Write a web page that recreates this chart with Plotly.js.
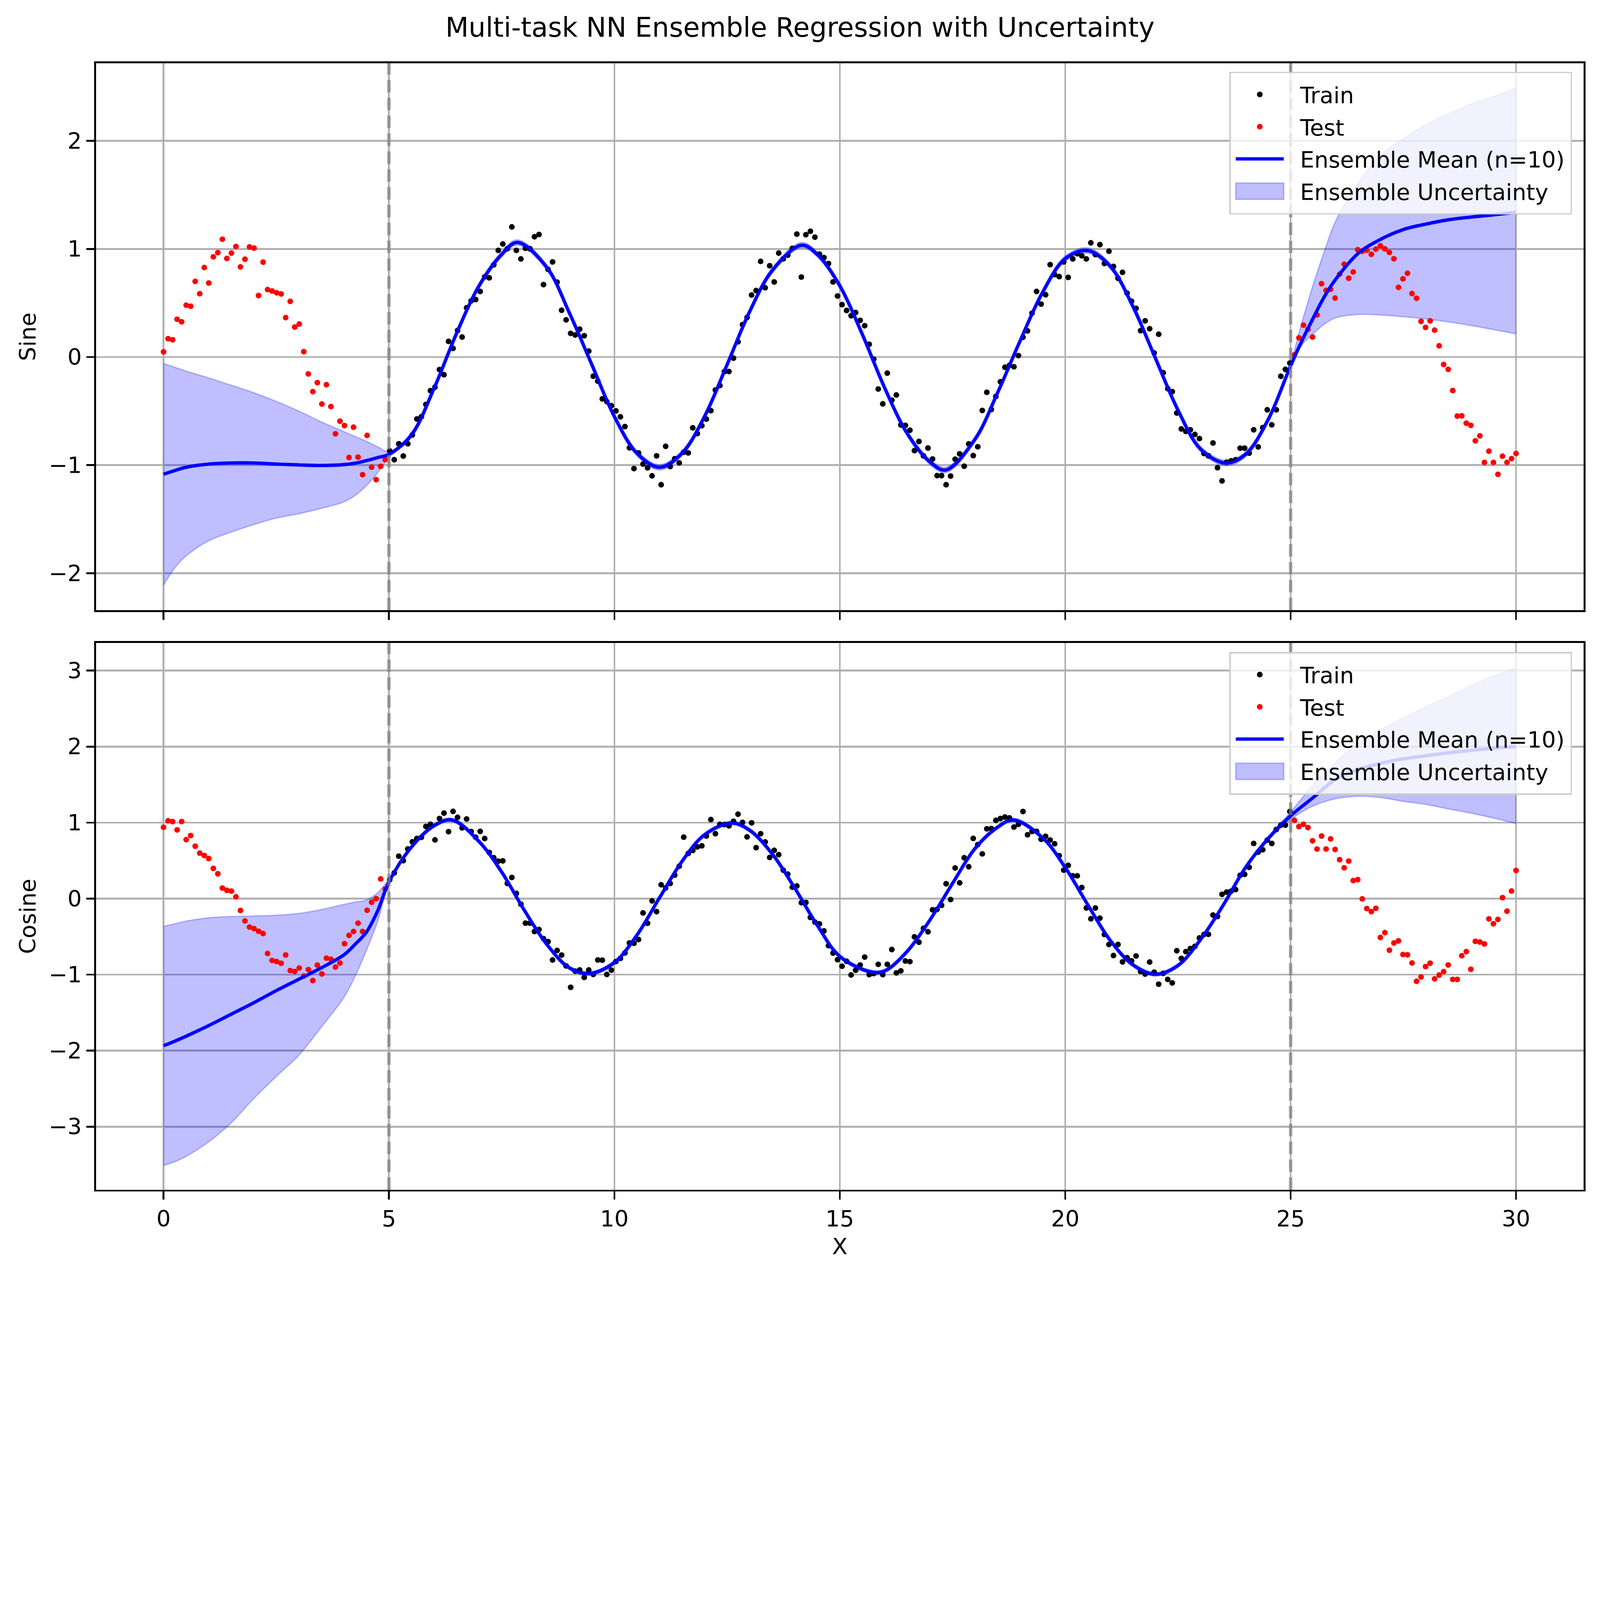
<!DOCTYPE html>
<html>
<head>
<meta charset="utf-8">
<script src="https://cdn.plot.ly/plotly-3.0.1.min.js"></script>
<style>
  html, body { margin: 0; padding: 0; background: #ffffff; }
  #outer { position: relative; overflow: hidden; background: #ffffff; }
  #wrap { position: absolute; left: 0; top: 0; width: 1568px; height: 1249px; transform-origin: 0 0; }
</style>
</head>
<body>
<div id="outer"><div id="wrap"><div id="plot"></div></div></div>
<script>
// ---------------- sampling grid (300 evenly spaced samples on [0, 30]) ----------------
const xGrid = Array.from({length: 300}, (_, i) => +(i * 30 / 299).toFixed(4));
const xTrain = xGrid.slice(50, 250);
const xTest = xGrid.slice(0, 50).concat(xGrid.slice(250));

// ---------------- Sine task: observed points ----------------
const sineTrain = [
 -0.868,-0.950,-0.802,-0.916,-0.802,-0.721,-0.573,-0.552,-0.439,-0.311,
 -0.279,-0.116,-0.164,0.145,0.080,0.246,0.185,0.456,0.519,0.532,
 0.607,0.742,0.733,0.853,0.987,1.046,1.002,1.204,0.987,0.908,
 1.006,1.002,1.113,1.134,0.670,0.811,0.880,0.693,0.433,0.344,
 0.219,0.204,0.258,0.197,0.055,-0.177,-0.223,-0.387,-0.412,-0.450,
 -0.498,-0.553,-0.643,-0.840,-1.032,-0.887,-0.990,-1.025,-1.099,-0.914,
 -1.181,-0.826,-1.013,-0.941,-0.979,-0.880,-0.887,-0.655,-0.708,-0.635,
 -0.574,-0.496,-0.305,-0.263,-0.135,-0.134,-0.010,0.141,0.300,0.366,
 0.574,0.615,0.885,0.641,0.845,0.695,0.962,0.908,0.943,1.006,
 1.137,0.740,1.132,1.164,1.109,0.952,0.920,0.865,0.695,0.565,
 0.485,0.431,0.382,0.412,0.340,0.290,0.118,-0.019,-0.296,-0.433,
 -0.149,-0.399,-0.351,-0.628,-0.632,-0.677,-0.866,-0.781,-0.914,-0.842,
 -0.943,-1.097,-1.097,-1.181,-1.101,-0.945,-0.895,-1.010,-0.803,-0.912,
 -0.830,-0.494,-0.326,-0.485,-0.365,-0.229,-0.094,-0.076,-0.090,0.013,
 0.183,0.242,0.406,0.607,0.490,0.576,0.855,0.763,0.744,0.880,
 0.737,0.908,0.956,0.937,0.908,1.057,0.948,1.040,0.865,0.979,
 0.838,0.729,0.784,0.592,0.516,0.450,0.244,0.335,0.262,0.038,
 0.211,-0.145,-0.292,-0.320,-0.518,-0.665,-0.688,-0.673,-0.716,-0.754,
 -0.892,-0.914,-0.795,-1.024,-1.146,-0.973,-0.960,-0.950,-0.843,-0.843,
 -0.889,-0.673,-0.831,-0.653,-0.488,-0.627,-0.488,-0.178,-0.114,-0.056
];
const sineTest = [
 0.048,0.170,0.160,0.350,0.326,0.480,0.470,0.700,0.586,0.828,
 0.685,0.927,0.966,1.090,0.912,0.962,1.023,0.834,0.905,1.019,
 1.008,0.569,0.878,0.624,0.611,0.594,0.584,0.365,0.515,0.277,
 0.305,0.050,-0.156,-0.320,-0.237,-0.435,-0.256,-0.458,-0.710,-0.594,
 -0.634,-0.929,-0.649,-0.926,-1.088,-0.725,-1.019,-1.134,-1.011,-0.950,
 0.020,0.178,0.295,0.257,0.185,0.389,0.678,0.617,0.627,0.546,
 0.767,0.859,0.729,0.787,0.993,0.978,0.988,0.950,0.998,1.029,
 1.001,0.968,0.909,0.645,0.724,0.775,0.587,0.544,0.330,0.274,
 0.335,0.249,0.104,-0.069,-0.114,-0.310,-0.546,-0.544,-0.612,-0.632,
 -0.775,-0.729,-0.975,-0.871,-0.975,-1.085,-0.917,-0.975,-0.940,-0.892
];

// ---------------- Cosine task: observed points ----------------
const cosTrain = [
 0.249,0.338,0.559,0.499,0.654,0.748,0.791,0.807,0.950,0.977,
 0.773,1.054,1.125,0.881,1.148,1.070,0.932,1.048,0.883,0.809,
 0.885,0.791,0.608,0.538,0.493,0.497,0.200,0.279,0.069,-0.073,
 -0.322,-0.322,-0.432,-0.406,-0.526,-0.565,-0.807,-0.681,-0.742,-0.885,
 -1.166,-0.954,-0.938,-1.036,-0.938,-0.997,-0.807,-0.809,-0.997,-0.940,
 -0.828,-0.787,-0.714,-0.583,-0.587,-0.538,-0.188,-0.324,-0.029,-0.171,
 0.183,0.141,0.200,0.310,0.426,0.809,0.595,0.634,0.681,0.695,
 0.824,1.040,0.854,0.977,0.975,0.958,1.017,1.111,1.003,0.813,
 0.997,0.671,0.854,0.746,0.542,0.636,0.579,0.375,0.322,0.151,
 0.167,-0.053,-0.051,-0.247,-0.308,-0.332,-0.424,-0.618,-0.716,-0.803,
 -0.889,-0.824,-1.004,-0.942,-0.873,-0.769,-0.999,-0.985,-0.864,-0.999,
 -0.864,-0.669,-0.977,-0.950,-0.820,-0.828,-0.502,-0.573,-0.391,-0.436,
 -0.147,-0.141,-0.088,0.196,-0.012,0.404,0.208,0.538,0.420,0.793,
 0.710,0.589,0.919,0.922,1.030,1.054,1.074,1.062,0.942,0.977,
 1.146,0.840,0.885,0.885,0.781,0.820,0.771,0.722,0.565,0.375,
 0.438,0.300,0.300,0.147,-0.122,-0.265,-0.124,-0.257,-0.471,-0.603,
 -0.748,-0.603,-0.832,-0.777,-0.818,-0.754,-0.957,-0.992,-0.834,-0.967,
 -1.125,-0.983,-1.062,-1.109,-0.685,-0.786,-0.697,-0.656,-0.628,-0.517,
 -0.472,-0.469,-0.216,-0.235,0.057,0.086,0.098,0.120,0.307,0.320,
 0.412,0.726,0.612,0.643,0.770,0.726,0.910,0.967,0.967,1.147
];
const cosTest = [
 0.939,1.024,1.014,0.905,1.014,0.776,0.830,0.690,0.599,0.568,
 0.527,0.398,0.327,0.139,0.109,0.099,0.024,-0.156,-0.293,-0.374,
 -0.395,-0.429,-0.459,-0.721,-0.813,-0.827,-0.850,-0.741,-0.946,-0.959,
 -0.912,-1.017,-0.932,-1.078,-0.874,-0.990,-0.782,-0.796,-0.901,-0.847,
 -0.592,-0.483,-0.432,-0.323,-0.432,-0.153,-0.048,0.000,0.259,0.126,
 1.030,0.948,0.979,0.935,0.761,0.653,0.824,0.653,0.786,0.647,
 0.513,0.406,0.494,0.238,0.250,-0.003,-0.130,-0.171,-0.127,-0.510,
 -0.447,-0.678,-0.583,-0.555,-0.735,-0.739,-0.846,-1.087,-1.030,-0.894,
 -0.849,-1.055,-1.005,-0.960,-0.872,-1.062,-1.062,-0.751,-0.697,-0.929,
 -0.561,-0.571,-0.596,-0.266,-0.330,-0.273,0.013,-0.165,0.100,0.371
];

// ---------------- Sine task: ensemble mean and uncertainty band ----------------
const sineKnots = [0,0.25,0.5,1,1.5,2,2.5,3,3.5,4, 4.25,4.5,4.75,5,5.5,6,6.5,7,7.5,7.85,
 8.5,9,9.5,10,10.5,11,11.5,12,12.5,13, 13.5,14.15,14.5,15,15.5,16,16.5,17,17.35,18,
 18.5,19,19.5,20,20.5,21,21.5,22,22.5,23, 23.55,24,24.5,25,25.25,25.5,25.75,26,26.5,27,
 27.5,28,28.5,29,29.5,30];
const sineMean = [-1.084,-1.05,-1.02,-0.99,-0.98,-0.98,-0.99,-0.998,-1.003,-0.995,
 -0.982,-0.958,-0.93,-0.90,-0.72,-0.29,0.22,0.66,0.95,1.06,
 0.83,0.41,-0.07,-0.55,-0.89,-1.02,-0.89,-0.55,-0.07,0.42,
 0.80,1.035,0.95,0.66,0.21,-0.29,-0.71,-0.97,-1.045,-0.76,
 -0.33,0.15,0.60,0.91,0.985,0.84,0.47,-0.01,-0.49,-0.85,
 -0.98,-0.90,-0.58,-0.08,0.15,0.36,0.56,0.72,0.96,1.09,
 1.18,1.23,1.27,1.295,1.316,1.34];
const sineUpper = [-0.06,-0.095,-0.13,-0.193,-0.26,-0.33,-0.41,-0.50,-0.60,-0.69,
 -0.735,-0.78,-0.83,-0.875,-0.695,-0.265,0.245,0.685,0.975,1.085,
 0.855,0.435,-0.045,-0.525,-0.865,-0.995,-0.865,-0.525,-0.045,0.445,
 0.825,1.06,0.975,0.685,0.235,-0.265,-0.685,-0.945,-1.02,-0.735,
 -0.305,0.175,0.625,0.935,1.01,0.865,0.495,0.015,-0.465,-0.825,
 -0.955,-0.875,-0.555,-0.05,0.32,0.67,0.98,1.26,1.61,1.87,
 2.02,2.15,2.25,2.34,2.41,2.49];
const sineLower = [-2.11,-1.95,-1.84,-1.70,-1.62,-1.55,-1.49,-1.45,-1.40,-1.34,
 -1.28,-1.19,-1.07,-0.93,-0.745,-0.315,0.195,0.635,0.925,1.035,
 0.805,0.385,-0.095,-0.575,-0.915,-1.045,-0.915,-0.575,-0.095,0.395,
 0.775,1.01,0.925,0.635,0.185,-0.315,-0.735,-0.995,-1.07,-0.785,
 -0.355,0.125,0.575,0.885,0.96,0.815,0.445,-0.035,-0.515,-0.875,
 -1.005,-0.925,-0.605,-0.11,0.11,0.216,0.305,0.363,0.394,0.389,
 0.373,0.353,0.325,0.292,0.254,0.215];

// ---------------- Cosine task: ensemble mean and uncertainty band ----------------
const cosKnots = [0,0.25,0.5,1,1.5,2,2.5,3,3.5,4, 4.25,4.5,4.75,5,5.5,6,6.4,7,7.5,8,
 8.5,9,9.45,10,10.5,11,11.5,12,12.6,13, 13.5,14,14.5,15,15.7,16,16.5,17,17.5,18,
 18.5,18.85,19.5,20,20.5,21,21.5,22,22.5,23, 23.5,24,24.5,25,25.5,26,26.5,27,27.5,28,
 28.5,29,29.5,30];
const cosMean = [-1.935,-1.875,-1.81,-1.67,-1.52,-1.37,-1.21,-1.06,-0.91,-0.74,
 -0.60,-0.44,-0.16,0.22,0.68,0.96,1.035,0.75,0.35,-0.15,
 -0.60,-0.91,-0.985,-0.84,-0.48,0.01,0.49,0.84,0.995,0.90,
 0.59,0.14,-0.35,-0.76,-0.965,-0.95,-0.69,-0.28,0.20,0.66,
 0.94,1.035,0.80,0.41,-0.08,-0.55,-0.87,-0.995,-0.88,-0.54,
 -0.09,0.41,0.79,1.09,1.33,1.57,1.70,1.78,1.84,1.88,
 1.92,1.95,1.98,2.0];
const cosUpper = [-0.364,-0.33,-0.296,-0.252,-0.235,-0.228,-0.218,-0.194,-0.143,-0.075,
 -0.045,-0.017,0.08,0.26,0.705,0.985,1.06,0.775,0.375,-0.125,
 -0.575,-0.885,-0.96,-0.815,-0.455,0.035,0.515,0.865,1.02,0.925,
 0.615,0.165,-0.325,-0.735,-0.94,-0.925,-0.665,-0.255,0.225,0.685,
 0.965,1.06,0.825,0.435,-0.055,-0.525,-0.845,-0.97,-0.855,-0.515,
 -0.065,0.435,0.815,1.14,1.50,1.79,2.04,2.22,2.38,2.52,
 2.66,2.80,2.93,3.03];
const cosLower = [-3.51,-3.46,-3.39,-3.20,-2.95,-2.63,-2.34,-2.06,-1.69,-1.30,
 -1.02,-0.68,-0.30,0.19,0.655,0.935,1.01,0.725,0.325,-0.175,
 -0.625,-0.935,-1.01,-0.865,-0.505,-0.015,0.465,0.815,0.97,0.875,
 0.565,0.115,-0.375,-0.785,-0.99,-0.975,-0.715,-0.305,0.175,0.635,
 0.915,1.01,0.775,0.385,-0.105,-0.575,-0.895,-1.02,-0.905,-0.565,
 -0.115,0.385,0.765,1.04,1.22,1.315,1.347,1.33,1.28,1.24,
 1.18,1.125,1.06,0.99];

// ---------------- labels ----------------
const chartTitle = 'Multi-task NN Ensemble Regression with Uncertainty';
const taskNames = ['Sine', 'Cosine'];
const xLabel = 'X';
const nEnsemble = 10;
const regionBounds = [5, 25];

// ---------------- styling (base canvas 1568 x 1249, scaled to the window) ----------------
const FONT = 'DejaVu Sans, Liberation Sans, sans-serif';
const FS = 22;
const bandFill = 'rgba(0,0,255,0.25)';
const gridCol = '#b0b0b0';
const LW = 1.76;

function panelTraces(knots, mean, upper, lower, xtr, ytr, xte, yte, xa, ya, leg) {
  return [
    {x: knots, y: lower, xaxis: xa, yaxis: ya, type: 'scatter', mode: 'lines',
     line: {color: bandFill, width: 1.3, shape: 'spline', smoothing: 1},
     showlegend: false, hoverinfo: 'skip', legend: leg},
    {x: knots, y: upper, xaxis: xa, yaxis: ya, type: 'scatter', mode: 'lines', fill: 'tonexty',
     fillcolor: bandFill, line: {color: bandFill, width: 1.3, shape: 'spline', smoothing: 1},
     name: 'Ensemble Uncertainty', legendrank: 4, legendgroup: leg + 'd', legend: leg},
    {x: xtr, y: ytr, xaxis: xa, yaxis: ya, type: 'scatter', mode: 'markers',
     marker: {color: '#000000', size: 5.6}, name: 'Train', legendrank: 1, legendgroup: leg + 'a', legend: leg},
    {x: xte, y: yte, xaxis: xa, yaxis: ya, type: 'scatter', mode: 'markers',
     marker: {color: '#ff0000', size: 5.6}, name: 'Test', legendrank: 2, legendgroup: leg + 'b', legend: leg},
    {x: knots, y: mean, xaxis: xa, yaxis: ya, type: 'scatter', mode: 'lines',
     line: {color: '#0000ff', width: 3.3, shape: 'spline', smoothing: 1},
     name: 'Ensemble Mean (n=' + nEnsemble + ')', legendrank: 3, legendgroup: leg + 'c', legend: leg}
  ];
}

const traces = [].concat(
  panelTraces(sineKnots, sineMean, sineUpper, sineLower, xTrain, sineTrain, xTest, sineTest, 'x', 'y', 'legend'),
  panelTraces(cosKnots, cosMean, cosUpper, cosLower, xTrain, cosTrain, xTest, cosTest, 'x2', 'y2', 'legend2')
);

const tickFont = {family: FONT, size: FS, color: '#000'};
const xCommon = {
  range: [-1.5, 31.5], tick0: 0, dtick: 5, ticks: 'outside', ticklen: 7.7, tickwidth: LW,
  tickcolor: '#000', showline: true, linecolor: '#000', linewidth: LW, mirror: true,
  showgrid: true, gridcolor: gridCol, gridwidth: LW, zeroline: false, tickfont: tickFont
};
const yCommon = {
  dtick: 1, tick0: 0, ticks: 'outside', ticklen: 7.7, tickwidth: LW,
  tickcolor: '#000', showline: true, linecolor: '#000', linewidth: LW, mirror: true,
  showgrid: true, gridcolor: gridCol, gridwidth: LW, zeroline: false, tickfont: tickFont
};
const legendCommon = {
  xref: 'paper', yref: 'paper', x: 0.9922, xanchor: 'right', yanchor: 'top',
  bgcolor: 'rgba(255,255,255,0.8)', bordercolor: '#cccccc', borderwidth: 1.45,
  font: {family: FONT, size: FS, color: '#000'}, traceorder: 'normal',
  tracegroupgap: 4.6, itemwidth: 58
};

const shapes = [];
[['x', 'y domain'], ['x2', 'y2 domain']].forEach(function (refs) {
  regionBounds.forEach(function (b) {
    shapes.push({type: 'line', xref: refs[0], yref: refs[1], x0: b, x1: b, y0: 0, y1: 1,
      layer: 'above', line: {color: 'rgba(128,128,128,0.7)', width: 3.3, dash: '12.2px,5.3px'}});
  });
});

const layout = {
  width: 1568, height: 1249,
  margin: {l: 94, r: 15.6, t: 61.8, b: 83.3, pad: 0},
  paper_bgcolor: '#ffffff', plot_bgcolor: '#ffffff',
  font: {family: FONT, size: FS, color: '#000'},
  title: {text: chartTitle, font: {family: FONT, size: 26.4, color: '#000'},
          x: 0.5, xref: 'container', xanchor: 'center', y: 0.9785, yref: 'container', yanchor: 'middle'},
  showlegend: true,
  hovermode: false,
  xaxis: Object.assign({}, xCommon, {anchor: 'y', domain: [0, 1], showticklabels: false, matches: 'x2'}),
  yaxis: Object.assign({}, yCommon, {anchor: 'x', domain: [0.5145, 1], range: [-2.342, 2.718],
          title: {text: taskNames[0], font: {family: FONT, size: FS, color: '#000'}, standoff: 6}}),
  xaxis2: Object.assign({}, xCommon, {anchor: 'y2', domain: [0, 1],
          title: {text: xLabel, font: {family: FONT, size: FS, color: '#000'}, standoff: 8}}),
  yaxis2: Object.assign({}, yCommon, {anchor: 'x2', domain: [0, 0.4855], range: [-3.83, 3.365],
          title: {text: taskNames[1], font: {family: FONT, size: FS, color: '#000'}, standoff: 6}}),
  legend: Object.assign({}, legendCommon, {y: 0.9925}),
  legend2: Object.assign({}, legendCommon, {y: 0.4775}),
  shapes: shapes
};

// fit the 1568 x 1249 figure into the captured window area (at most 4096 px a side)
const vw = Math.min(window.innerWidth || 5936, 4096);
const vh = Math.min(window.innerHeight || 4728, 4096);
const fit = Math.min(vw / 1568, vh / 1249);
const outer = document.getElementById('outer');
outer.style.width = Math.floor(1568 * fit) + 'px';
outer.style.height = Math.ceil(1249 * fit) + 'px';
document.getElementById('wrap').style.transform = 'scale(' + fit + ')';

// legend keys sized like the reference: a 47 px line / patch and a centred dot (both legends)
function styleLegendKeys(gd) {
  try {
    gd.querySelectorAll('g.legend g.traces, g.legend2 g.traces').forEach(function (g) {
      const fillPath = g.querySelector('.legendfill path');
      const hasFill = !!(fillPath && fillPath.getAttribute('d'));
      if (hasFill) fillPath.setAttribute('d', 'M5,-8h47v16h-47z');
      g.querySelectorAll('.legendlines path').forEach(function (p) {
        if (!p.getAttribute('d')) return;
        if (hasFill) { p.setAttribute('d', 'M5,-8h47v16h-47z'); p.style.fill = 'none'; }
        else p.setAttribute('d', 'M5,0h47');
      });
      g.querySelectorAll('.legendpoints path.scatterpts').forEach(function (p) {
        p.setAttribute('transform', 'translate(28.5,0)');
      });
    });
  } catch (e) { /* keep default legend keys */ }
}

Plotly.newPlot('plot', traces, layout, {staticPlot: true, displayModeBar: false, responsive: false})
  .then(styleLegendKeys);
</script>
</body>
</html>
